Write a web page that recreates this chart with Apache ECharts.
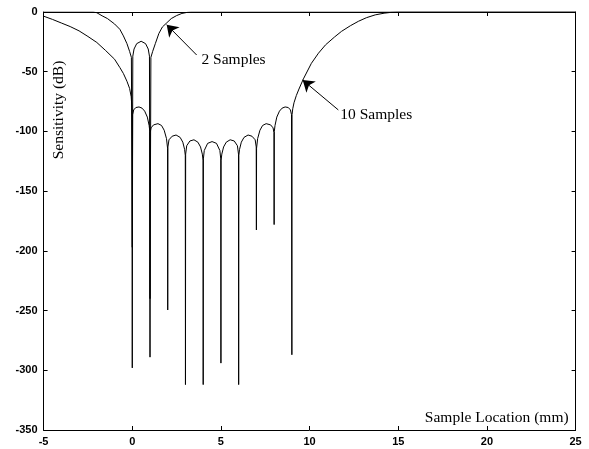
<!DOCTYPE html>
<html>
<head>
<meta charset="utf-8">
<script src="https://cdn.jsdelivr.net/npm/echarts@6/dist/echarts.min.js"></script>
<style>
  html, body {margin:0; padding:0; background:#fff;}
  #chart {width:589px; height:449px;}
</style>
</head>
<body>
<div id="chart"></div>
<script>
// values: [location mm, sensitivity dB]
const tenSamples = [
    [-5, -3.5], [-4.5, -6.2], [-4, -9.2], [-3.5, -12.2], [-3, -15.8], [-2.5, -20.5],
    [-2, -25.5], [-1.5, -32.3], [-1, -39.5], [-0.7, -46.5], [-0.5, -51.5], [-0.3, -58],
    [-0.15, -64], [-0.06, -71], [-0.02, -80], [0, -298],
    [0.02, -86], [0.08, -82], [0.2, -80], [0.38, -79.5], [0.55, -80.5], [0.7, -83], [0.85, -88], [0.95, -95], [0.99, -100], [1, -289],
    [1.01, -101], [1.06, -97], [1.2, -94.5], [1.45, -93.5], [1.65, -95], [1.8, -99], [1.93, -106], [1.99, -114], [2, -249.5],
    [2.01, -113], [2.07, -107], [2.25, -104], [2.47, -103], [2.7, -105], [2.85, -109], [2.95, -115], [2.99, -120], [3, -312],
    [3.01, -119], [3.07, -112], [3.25, -108], [3.48, -107], [3.7, -109], [3.85, -113], [3.95, -119], [3.99, -124], [4, -312],
    [4.01, -123], [4.06, -116], [4.25, -110], [4.5, -108.5], [4.75, -110], [4.94, -116], [4.99, -123], [5, -294],
    [5.01, -124], [5.05, -119], [5.15, -113], [5.3, -109], [5.52, -107], [5.75, -108], [5.93, -112], [5.99, -119], [6, -312],
    [6.01, -120], [6.05, -115], [6.15, -109], [6.3, -105], [6.53, -103], [6.75, -104], [6.93, -107], [6.99, -113], [7, -182.5],
    [7.01, -114], [7.07, -106], [7.2, -99], [7.35, -95], [7.55, -93.5], [7.8, -94.5], [7.94, -97], [7.99, -101], [8, -178],
    [8.01, -100], [8.05, -95], [8.15, -88], [8.3, -83], [8.45, -80.5], [8.62, -79.5], [8.8, -80], [8.92, -82], [8.98, -86], [9, -287],
    [9.01, -86], [9.05, -81], [9.12, -76], [9.25, -70], [9.4, -64.5], [9.65, -56], [10.1, -43],
    [10.5, -34.5], [10.9, -27.5], [11.4, -21], [11.8, -16.2], [12.3, -11.5], [12.75, -7.8],
    [13.2, -4.8], [13.7, -2.4], [14.2, -1], [14.6, -0.3], [15, 0], [25, 0]
];
const twoSamples = [
    [-5, 0], [-2.2, 0], [-2, -0.6], [-1.7, -3.2], [-1.4, -5.5], [-1, -10], [-0.7, -14.5],
    [-0.5, -20], [-0.3, -26.5], [-0.15, -33], [-0.05, -38], [0, -197],
    [0.03, -37], [0.1, -31], [0.25, -26.5], [0.5, -24.5], [0.75, -26.5], [0.9, -31], [0.97, -37], [1, -240],
    [1.05, -38], [1.15, -33], [1.3, -26.5], [1.5, -18], [1.7, -12.5], [1.95, -9], [2.2, -5.5],
    [2.5, -3], [2.8, -1.2], [3.1, -0.3], [3.3, 0], [25, 0]
];
const xTicks = [-5, 0, 5, 10, 15, 20, 25];
const yTicks = [-350, -300, -250, -200, -150, -100, -50, 0];
// annotation: label anchor and arrow tail / tip
const twoLabel = {text: '2 Samples', at: [3.9, -40], tail: [3.63, -36], tip: [1.94, -10.6]};
const tenLabel = {text: '10 Samples', at: [11.73, -86], tail: [11.62, -82], tip: [9.61, -57]};

const serif = 'Liberation Serif, Times New Roman, serif';
const sans = 'Liberation Sans, Arial, sans-serif';
const chart = echarts.init(document.getElementById('chart'));

function frameAxis(pos, isX) {
    return {
        type: 'value',
        position: pos,
        min: isX ? xTicks[0] : yTicks[0],
        max: isX ? xTicks[xTicks.length - 1] : yTicks[yTicks.length - 1],
        interval: isX ? 5 : 50,
        axisLine: {show: true, onZero: false, lineStyle: {color: '#000', width: 1}},
        axisTick: {show: true, inside: true, length: 4, lineStyle: {color: '#000'}},
        axisLabel: {show: false},
        splitLine: {show: false}
    };
}

const xBottom = frameAxis('bottom', true);
xBottom.axisLabel = {show: true, margin: 6, color: '#000', fontSize: 11, fontWeight: 'bold', fontFamily: sans};
const yLeft = frameAxis('left', false);
yLeft.axisLabel = {show: true, margin: 6, color: '#000', fontSize: 11, fontWeight: 'bold', fontFamily: sans};

function arrow(a) {
    return [{coord: a.tail}, {coord: a.tip}];
}
function note(a) {
    return {coord: a.at, name: a.text};
}

chart.setOption({
    animation: false,
    backgroundColor: '#fff',
    grid: {left: 43.6, right: 13.4, top: 12, bottom: 19},
    xAxis: [xBottom, frameAxis('top', true)],
    yAxis: [yLeft, frameAxis('right', false)],
    series: [
        {
            name: '10 Samples',
            type: 'line',
            data: tenSamples,
            showSymbol: false,
            symbol: 'none',
            lineStyle: {color: '#000', width: 1},
            silent: true,
            markLine: {
                silent: true,
                symbol: ['none', 'arrow'],
                symbolSize: 11,
                itemStyle: {color: '#000'},
                lineStyle: {color: '#000', width: 1, type: 'solid'},
                label: {show: false},
                emphasis: {disabled: true},
                data: [arrow(twoLabel), arrow(tenLabel)]
            },
            markPoint: {
                silent: true,
                symbol: 'circle',
                symbolSize: 0.1,
                itemStyle: {color: 'transparent'},
                label: {
                    show: true, position: 'right', distance: 0, formatter: '{b}',
                    color: '#000', fontSize: 15.5, fontFamily: serif
                },
                data: [note(twoLabel), note(tenLabel)]
            }
        },
        {
            name: '2 Samples',
            type: 'line',
            data: twoSamples,
            showSymbol: false,
            symbol: 'none',
            lineStyle: {color: '#000', width: 1},
            silent: true
        }
    ]
});

// axis titles sit inside the frame, as in the original figure
const rect = chart.getModel().getComponent('grid').coordinateSystem.getRect();
chart.setOption({
    graphic: [
        {
            type: 'text',
            right: 589 - (rect.x + rect.width) + 7,
            top: rect.y + rect.height - 20,
            style: {text: 'Sample Location (mm)', fill: '#000', font: '15.5px ' + serif}
        },
        {
            type: 'text',
            x: rect.x + 15,
            y: 110,
            rotation: Math.PI / 2,
            style: {text: 'Sensitivity (dB)', fill: '#000', font: '15.5px ' + serif, align: 'center', verticalAlign: 'middle'}
        }
    ]
});
</script>
</body>
</html>
